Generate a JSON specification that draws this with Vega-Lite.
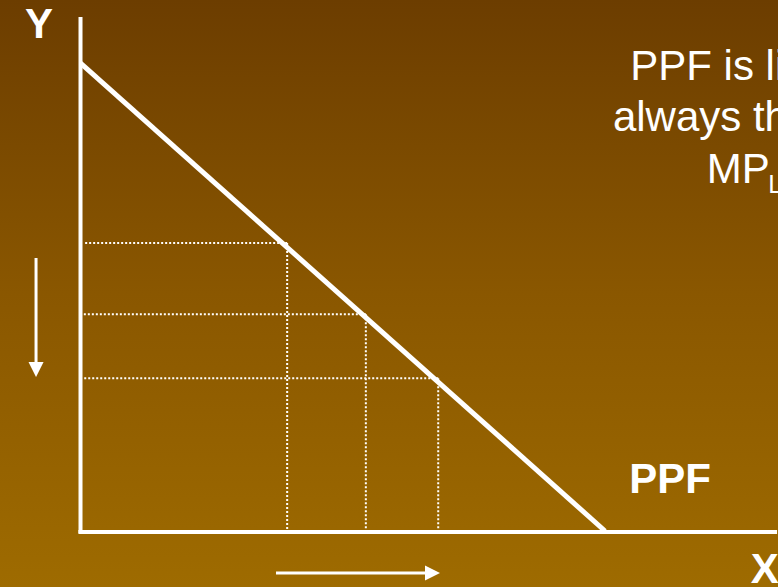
{
  "$schema": "https://vega.github.io/schema/vega-lite/v6.json",
  "autosize": {"type": "none"},
  "width": 778,
  "height": 587,
  "padding": 0,
  "background": "#8a5800",
  "config": {"view": {"stroke": null}},
  "datasets": {
    "panel": [{"name": "backdrop"}],
    "axes": [
      {"x": 0, "y": -0.04, "x2": 0, "y2": 9.885},
      {"x": -0.04, "y": -0.02, "x2": 13.28, "y2": -0.02}
    ],
    "ppf": [{"x": 0, "y": 9.0, "x2": 10.0, "y2": 0.0}],
    "guides": [
      {"x": 3.94, "y": 5.54},
      {"x": 5.44, "y": 4.17},
      {"x": 6.82, "y": 2.94}
    ],
    "arrowShafts": [
      {"x": -0.848, "y": 5.25, "x2": -0.848, "y2": 3.2},
      {"x": 3.727, "y": -0.808, "x2": 6.6, "y2": -0.808}
    ],
    "arrowHeads": [
      {"x": -0.848, "y": 3.106, "dir": "down"},
      {"x": 6.711, "y": -0.808, "dir": "right"}
    ],
    "yTitle": [{"label": "Y", "x": -0.791, "y": 9.481}],
    "titles": [
      {"label": "PPF", "x": 10.46, "y": 0.731},
      {"label": "X", "x": 12.78, "y": -1.0}
    ],
    "note": [
      {"label": "PPF is li", "x": 10.48, "y": 8.673},
      {"label": "always th", "x": 10.15, "y": 7.692},
      {"label": "MP", "x": 11.94, "y": 6.692}
    ],
    "noteSub": [{"label": "L", "x": 13.11, "y": 6.5}]
  },
  "layer": [
    {
      "data": {"name": "panel"},
      "mark": {
        "type": "rect",
        "fill": {
          "gradient": "linear",
          "x1": 0, "y1": 0, "x2": 0, "y2": 1,
          "stops": [
            {"offset": 0, "color": "#6c3d00"},
            {"offset": 0.5, "color": "#8a5700"},
            {"offset": 1, "color": "#9e6b00"}
          ]
        }
      },
      "encoding": {
        "x": {"value": 0},
        "x2": {"value": "width"},
        "y": {"value": 0},
        "y2": {"value": "height"}
      }
    },
    {
      "data": {"name": "guides"},
      "mark": {"type": "rule", "color": "white", "strokeWidth": 2, "strokeDash": [2, 2]},
      "encoding": {
        "x": {"field": "x", "type": "quantitative", "scale": {"domain": [-1.535, 13.298], "nice": false, "zero": false}, "axis": null},
        "x2": {"datum": 0.06},
        "y": {"field": "y", "type": "quantitative", "scale": {"domain": [-1.077, 10.212], "nice": false, "zero": false}, "axis": null}
      }
    },
    {
      "data": {"name": "guides"},
      "mark": {"type": "rule", "color": "white", "strokeWidth": 2, "strokeDash": [2, 2]},
      "encoding": {
        "x": {"field": "x", "type": "quantitative"},
        "y": {"field": "y", "type": "quantitative"},
        "y2": {"datum": 0}
      }
    },
    {
      "data": {"name": "axes"},
      "mark": {"type": "rule", "color": "white", "strokeWidth": 4, "strokeCap": "butt"},
      "encoding": {
        "x": {"field": "x", "type": "quantitative"},
        "y": {"field": "y", "type": "quantitative"},
        "x2": {"field": "x2"},
        "y2": {"field": "y2"}
      }
    },
    {
      "data": {"name": "ppf"},
      "mark": {"type": "rule", "color": "white", "strokeWidth": 5, "strokeCap": "butt"},
      "encoding": {
        "x": {"field": "x", "type": "quantitative"},
        "y": {"field": "y", "type": "quantitative"},
        "x2": {"field": "x2"},
        "y2": {"field": "y2"}
      }
    },
    {
      "data": {"name": "arrowShafts"},
      "mark": {"type": "rule", "color": "white", "strokeWidth": 3, "strokeCap": "butt"},
      "encoding": {
        "x": {"field": "x", "type": "quantitative"},
        "y": {"field": "y", "type": "quantitative"},
        "x2": {"field": "x2"},
        "y2": {"field": "y2"}
      }
    },
    {
      "data": {"name": "arrowHeads"},
      "mark": {"type": "point", "filled": true, "color": "white", "opacity": 1, "size": 225, "strokeWidth": 0},
      "encoding": {
        "x": {"field": "x", "type": "quantitative"},
        "y": {"field": "y", "type": "quantitative"},
        "shape": {
          "field": "dir",
          "type": "nominal",
          "scale": {"domain": ["down", "right"], "range": ["M-1,-1L1,-1L0,1Z", "M-1,-1L1,0L-1,1Z"]},
          "legend": null
        }
      }
    },
    {
      "data": {"name": "yTitle"},
      "mark": {"type": "text", "color": "white", "font": "Liberation Sans", "fontWeight": "bold", "fontSize": 42, "align": "center", "baseline": "alphabetic"},
      "encoding": {
        "x": {"field": "x", "type": "quantitative"},
        "y": {"field": "y", "type": "quantitative"},
        "text": {"field": "label"}
      }
    },
    {
      "data": {"name": "titles"},
      "mark": {"type": "text", "color": "white", "font": "Liberation Sans", "fontWeight": "bold", "fontSize": 42, "align": "left", "baseline": "alphabetic"},
      "encoding": {
        "x": {"field": "x", "type": "quantitative"},
        "y": {"field": "y", "type": "quantitative"},
        "text": {"field": "label"}
      }
    },
    {
      "data": {"name": "note"},
      "mark": {"type": "text", "color": "white", "font": "Liberation Sans", "fontSize": 42, "align": "left", "baseline": "alphabetic"},
      "encoding": {
        "x": {"field": "x", "type": "quantitative"},
        "y": {"field": "y", "type": "quantitative"},
        "text": {"field": "label"}
      }
    },
    {
      "data": {"name": "noteSub"},
      "mark": {"type": "text", "color": "white", "font": "Liberation Sans", "fontSize": 25, "align": "left", "baseline": "alphabetic"},
      "encoding": {
        "x": {"field": "x", "type": "quantitative"},
        "y": {"field": "y", "type": "quantitative"},
        "text": {"field": "label"}
      }
    }
  ]
}
